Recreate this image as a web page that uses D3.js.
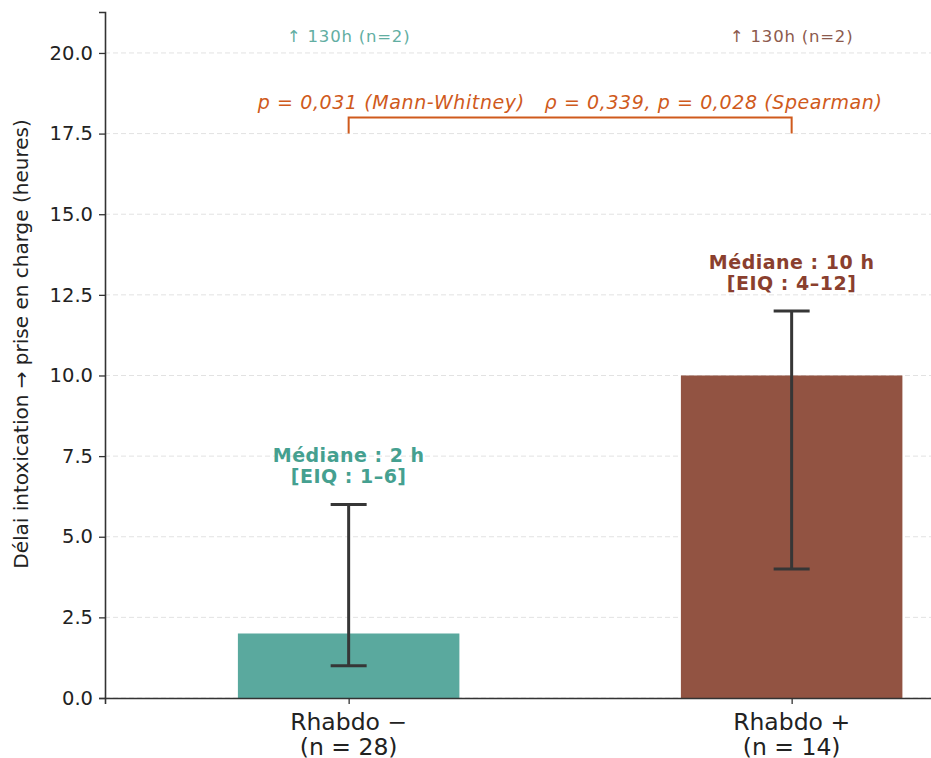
<!DOCTYPE html>
<html>
<head>
<meta charset="utf-8">
<script src="https://cdn.jsdelivr.net/npm/d3@7"></script>
<style>
  body { margin: 0; background: #fff; }
  svg { display: block; font-family: "DejaVu Sans", sans-serif; }
</style>
</head>
<body>
<div id="chart"></div>
<script>
// Données
const groups = ["Rhabdo −", "Rhabdo +"];
const groupN = ["(n = 28)", "(n = 14)"];
const medians = [2, 10];
const q1 = [1, 4];
const q3 = [6, 12];
const medianLabels = ["Médiane : 2 h", "Médiane : 10 h"];
const iqrLabels = ["[EIQ : 1–6]", "[EIQ : 4–12]"];
const outlierLabels = ["↑ 130h (n=2)", "↑ 130h (n=2)"];
const yTicks = [0, 2.5, 5, 7.5, 10, 12.5, 15, 17.5, 20];
const statText = "p = 0,031 (Mann-Whitney)   ρ = 0,339, p = 0,028 (Spearman)";

const barColors = ["#5aa99e", "#925342"];
const labelColors = ["#45a090", "#8a3f2e"];
const outlierColors = ["#62aea2", "#8c5a4d"];

const width = 931;
const height = 758;
const marginLeft = 105;
const marginTop = 12;
const marginBottom = 60;

const svg = d3.create("svg")
  .attr("width", width)
  .attr("height", height)
  .attr("viewBox", [0, 0, width, height]);

d3.select("#chart").append(() => svg.node());

// Échelles
const x = d3.scaleLinear()
  .domain([-0.55, 1.55])
  .range([marginLeft, marginLeft + 2.1 * 443]);

const y = d3.scaleLinear()
  .domain([0, 21.27])
  .range([height - marginBottom, marginTop]);

const barW = x(0.5) - x(0);

// Grille
svg.append("g")
  .selectAll("line")
  .data(yTicks)
  .join("line")
  .attr("x1", marginLeft)
  .attr("x2", width)
  .attr("y1", d => y(d))
  .attr("y2", d => y(d))
  .attr("stroke", "#e2e2e2")
  .attr("stroke-width", 1)
  .attr("stroke-dasharray", "5,3");

// Barres
svg.append("g")
  .selectAll("rect")
  .data(medians)
  .join("rect")
  .attr("x", (d, i) => x(i) - barW / 2)
  .attr("y", d => y(d))
  .attr("width", barW)
  .attr("height", d => y(0) - y(d))
  .attr("fill", (d, i) => barColors[i]);

// Barres d'erreur (EIQ)
const err = svg.append("g").attr("stroke", "#363636").attr("stroke-width", 3);
groups.forEach((g, i) => {
  err.append("line")
    .attr("x1", x(i)).attr("x2", x(i))
    .attr("y1", y(q1[i])).attr("y2", y(q3[i]));
  [q1[i], q3[i]].forEach(v => {
    err.append("line")
      .attr("x1", x(i) - 18).attr("x2", x(i) + 18)
      .attr("y1", y(v)).attr("y2", y(v));
  });
});

// Étiquettes médiane
groups.forEach((g, i) => {
  const t = svg.append("text")
    .attr("text-anchor", "middle")
    .attr("fill", labelColors[i])
    .attr("font-weight", "bold")
    .attr("font-size", 19)
    .attr("letter-spacing", 0.5);
  t.append("tspan").attr("x", x(i)).attr("y", y(q3[i]) - 42).text(medianLabels[i]);
  t.append("tspan").attr("x", x(i)).attr("y", y(q3[i]) - 21).text(iqrLabels[i]);
});

// Valeurs extrêmes hors échelle
svg.append("g")
  .selectAll("text")
  .data(outlierLabels)
  .join("text")
  .attr("x", (d, i) => x(i))
  .attr("y", y(20.34))
  .attr("text-anchor", "middle")
  .attr("font-size", 16.5)
  .attr("letter-spacing", 0.8)
  .attr("fill", (d, i) => outlierColors[i])
  .text(d => d);

// Crochet de significativité
svg.append("path")
  .attr("fill", "none")
  .attr("stroke", "#cf5a1c")
  .attr("stroke-width", 2)
  .attr("d", `M${x(0)},${y(17.5)}V${y(18)}H${x(1)}V${y(17.5)}`);

svg.append("text")
  .attr("x", (x(0) + x(1)) / 2)
  .attr("y", y(18.26))
  .attr("text-anchor", "middle")
  .attr("font-style", "italic")
  .attr("font-size", 19)
  .attr("letter-spacing", 0.6)
  .attr("fill", "#cf5a1c")
  .attr("xml:space", "preserve")
  .style("white-space", "pre")
  .text(statText);

// Axe Y
svg.append("g")
  .attr("transform", `translate(${marginLeft},0)`)
  .call(d3.axisLeft(y).tickValues(yTicks).tickFormat(d3.format(".1f")).tickSizeOuter(0).tickSize(6).tickPadding(6))
  .call(g => g.select(".domain").attr("stroke", "#333").attr("stroke-width", 1.6))
  .call(g => g.selectAll(".tick line").attr("stroke", "#333").attr("stroke-width", 1.3))
  .call(g => g.selectAll(".tick text")
    .attr("font-family", "DejaVu Sans")
    .attr("font-size", 19.5)
    .attr("fill", "#222"));

// Axe X
const xAxis = svg.append("g")
  .attr("transform", `translate(0,${y(0)})`)
  .call(d3.axisBottom(x).tickValues([0, 1]).tickFormat(() => "").tickSizeOuter(0).tickSize(6));
xAxis.select(".domain").attr("stroke", "#333").attr("stroke-width", 1.6);
xAxis.selectAll(".tick line").attr("stroke", "#333").attr("stroke-width", 1.3);

groups.forEach((g, i) => {
  const t = svg.append("text")
    .attr("text-anchor", "middle")
    .attr("font-size", 23.5)
    .attr("fill", "#222");
  t.append("tspan").attr("x", x(i)).attr("y", y(0) + 32).text(g);
  t.append("tspan").attr("x", x(i)).attr("y", y(0) + 57).text(groupN[i]);
});

// Titre de l'axe Y
svg.append("text")
  .attr("transform", `translate(28,${(y(0) + marginTop) / 2 - 11}) rotate(-90)`)
  .attr("text-anchor", "middle")
  .attr("font-size", 20)
  .attr("fill", "#222")
  .text("Délai intoxication → prise en charge (heures)");
</script>
</body>
</html>
